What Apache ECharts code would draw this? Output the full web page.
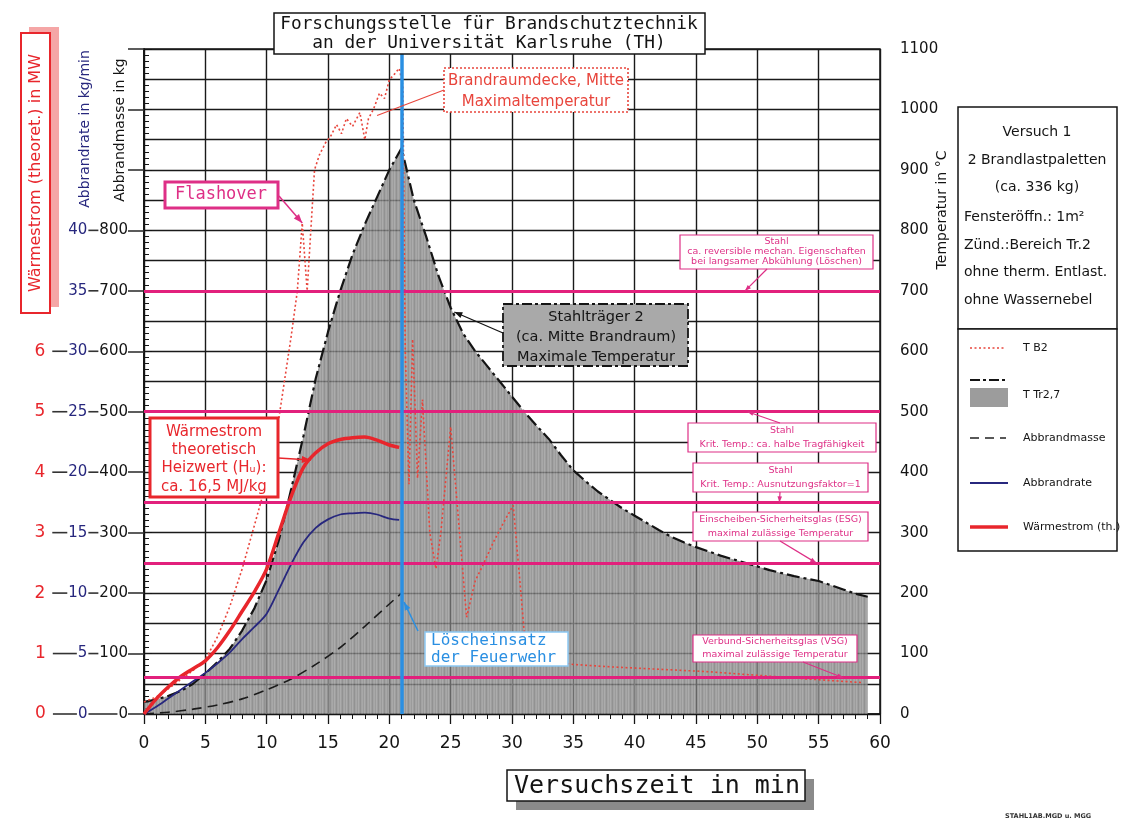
<!DOCTYPE html>
<html lang="de">
<head>
<meta charset="utf-8">
<title>Versuch 1 – Temperaturverlauf</title>
<script src="https://cdn.jsdelivr.net/npm/echarts@6/dist/echarts.min.js"></script>
<style>
html,body{margin:0;padding:0;background:#fff;}
#chart{width:1121px;height:828px;}
</style>
</head>
<body>
<div id="chart"></div>
<script>
// ---- Messwerte ---------------------------------------------------------
// T Tr2,7 – Stahlträger 2, maximale Temperatur (°C)
const trTime = [0,1,2,3,4,5,6,7,8,9,10,11,12,13,14,15,16,17,18,19,20,21,22,23,24,25,26,27,28,29,30,31,32,33,34,35,36,37,38,39,40,41,42,43,44,45,46,47,48,49,50,51,52,53,54,55,56,57,58,59];
const trTemp = [20,24,30,38,50,67,86,108,138,175,222,288,372,460,555,632,700,760,810,855,900,936,850,790,725,672,630,600,575,550,525,500,477,455,428,403,385,368,354,340,328,316,304,293,284,276,269,262,256,250,244,238,233,228,224,220,213,206,199,194];

// T B2 – Brandraumdecke, Mitte (°C)
const b2Time = [0,1,2,3,4,5,6,7,8,9,10,11,12,12.5,12.9,13.3,13.9,14.3,14.8,15.2,15.7,16.1,16.5,17,17.6,18,18.3,18.7,19.2,19.6,20,20.4,20.8,21.1,21.3,21.6,21.9,22.3,22.7,23.3,23.8,24.2,25,25.6,26.3,27,27.6,28.5,29.4,30.1,30.6,31.1,32,33,35,38,42,46,50,54,58.5];
const b2Temp = [20,28,42,57,72,90,128,178,240,312,385,490,625,700,812,700,900,925,945,955,975,960,985,972,995,950,985,1000,1027,1018,1049,1058,1068,1040,600,380,620,390,520,300,240,300,475,330,160,220,245,285,320,345,230,110,95,88,82,78,74,70,64,58,52];

// Abbrandmasse (kg)
const amTime = [0,2,4,6,8,10,12,14,16,18,20,21];
const amMass = [0,3,8,15,25,40,58,82,110,145,182,200];

// Abbrandrate (kg/min)
const arTime = [0,1,2,3,4,5,6,7,8,9,10,11,12,13,14,15,16,17,18,19,20,20.8];
const arRate = [0,0.6,1.3,2.0,2.7,3.4,4.2,5.1,6.2,7.2,8.3,10.3,12.4,14.2,15.4,16.1,16.5,16.6,16.65,16.5,16.15,16.05];

// Wärmestrom, theoretisch (MW)
const wsTime = [0,1,2,3,4,5,6,7,8,9,10,11,12,13,14,15,16,17,18,19,20,20.8];
const wsPower = [0,0.25,0.45,0.62,0.75,0.88,1.1,1.38,1.7,2.02,2.4,3.0,3.6,4.08,4.32,4.47,4.54,4.57,4.58,4.53,4.45,4.41];

// Grenztemperaturen Stahl / Glas (°C)
const limitTemps = [700, 500, 350, 250, 60];
// Beginn des Löscheinsatzes (min)
const extinguishTime = 21;

// Achsen
const timeAxis = { min: 0, max: 60, step: 5 };
const tempAxis = { min: 0, max: 1100, step: 100, grid: 50 };
const massLabelMax = 800;   // kg, höchste Beschriftung links
const powerLabelMax = 600;  // entspricht 6 MW
const kgPerMinFactor = 20;  // 1 kg/min ≙ 20 kg Skalenteil
const mwFactor = 100;       // 1 MW ≙ 100 kg Skalenteil

// ---- Farben --------------------------------------------------------------
const RED = '#e8262c', DOT_RED = '#e8453c', PINK = '#e2207c', PINK_TXT = '#de2f86',
      BLUE = '#2a8fe2', NAVY = '#27277e', INK = '#141414';
const SANS = 'DejaVu Sans', MONO = 'DejaVu Sans Mono';

const zip = (a, b) => a.map((t, i) => [t, b[i]]);

// Schraffur der Trägerfläche (feine senkrechte Streifen)
const stripe = document.createElement('canvas');
stripe.width = 6; stripe.height = 4;
(() => {
  const c = stripe.getContext('2d');
  ['#777','#8c8c8c','#939393','#828282','#989898','#888'].forEach((col, i) => {
    c.fillStyle = col; c.fillRect(i, 0, 1, 4);
  });
})();

// ---- linke Mehrfachskala (MW – kg/min – kg) -----------------------------
const measureCtx = document.createElement('canvas').getContext('2d');
const textW = (s, px) => { measureCtx.font = px + 'px "' + SANS + '"'; return Math.round(measureCtx.measureText(s).width); };
const leftRich = {
  mw: { color: RED, fontSize: 17, fontFamily: SANS },
  r:  { color: NAVY, fontSize: 15, fontFamily: SANS },
  k:  { color: INK, fontSize: 15, fontFamily: SANS }
};
for (let w = 1; w <= 60; w++) {
  leftRich['l' + w] = { width: w, height: 1.6, backgroundColor: '#333' };
  leftRich['s' + w] = { width: w };
}
function leftLabel(v) {
  if (v > massLabelMax) return '';
  const kg = String(v), rate = String(v / kgPerMinFactor);
  const l2 = Math.max(4, 39 - textW(kg, 15));
  let s = `{r|${rate}}{s1| }{l${l2}| }{s1| }{k|${kg}}`;
  if (v <= powerLabelMax) {
    const l1 = Math.max(4, 34 - textW(rate, 15));
    s = `{mw|${v / mwFactor}}{s7| }{l${l1}| }{s1| }` + s;
  }
  return s;
}

const chart = echarts.init(document.getElementById('chart'), null, { renderer: 'canvas' });

const option = {
  animation: false,
  backgroundColor: '#fff',
  grid: { left: 144, right: 241, top: 49, bottom: 114, show: true, borderColor: INK, borderWidth: 1.5, backgroundColor: 'transparent' },
  xAxis: [{
    type: 'value', min: timeAxis.min, max: timeAxis.max, interval: timeAxis.step,
    axisLine: { show: true, lineStyle: { color: INK, width: 1.5 } },
    axisTick: { show: true, length: 10, lineStyle: { color: INK, width: 1.3 } },
    minorTick: { show: true, splitNumber: 5, length: 5, lineStyle: { color: INK, width: 1 } },
    axisLabel: { fontSize: 17, fontFamily: SANS, color: INK, margin: 21 },
    splitLine: { show: true, lineStyle: { color: '#1a1a1a', width: 1.4 } }
  }],
  yAxis: [
    { // 0: Temperatur (rechts)
      type: 'value', position: 'right', min: tempAxis.min, max: tempAxis.max, interval: tempAxis.step,
      axisLine: { show: true, lineStyle: { color: INK, width: 1.5 } },
      axisTick: { show: true, length: 8, lineStyle: { color: INK } },
      minorTick: { show: true, splitNumber: 10, length: 4, lineStyle: { color: INK } },
      axisLabel: { fontSize: 15, fontFamily: SANS, color: INK, margin: 20, formatter: v => String(v) },
      splitLine: { show: false }
    },
    { // 1: Abbrandmasse in kg (links) mit kombinierter Beschriftung
      type: 'value', position: 'left', min: tempAxis.min, max: tempAxis.max, interval: tempAxis.step,
      axisLine: { show: true, lineStyle: { color: INK, width: 1.5 } },
      axisTick: { show: true, length: 16, lineStyle: { color: '#333', width: 1.6 } },
      axisLabel: { margin: 16, formatter: leftLabel, rich: leftRich },
      splitLine: { show: false }
    },
    { // 2: Feinteilung links (innen)
      type: 'value', position: 'left', min: tempAxis.min, max: tempAxis.max, interval: tempAxis.step,
      axisLine: { show: false }, axisLabel: { show: false },
      axisTick: { show: false, inside: true },
      minorTick: { show: true, splitNumber: 10, length: 5, lineStyle: { color: INK } },
      splitLine: { show: false }
    },
    { // 3: Rasterlinien alle 50 °C
      type: 'value', position: 'right', min: tempAxis.min, max: tempAxis.max, interval: tempAxis.grid,
      axisLine: { show: false }, axisLabel: { show: false }, axisTick: { show: false },
      splitLine: { show: true, lineStyle: { color: '#1a1a1a', width: 1.4 } }
    },
    { // 4: Abbrandrate kg/min
      type: 'value', show: false, min: tempAxis.min / kgPerMinFactor, max: tempAxis.max / kgPerMinFactor, splitLine: { show: false }
    },
    { // 5: Wärmestrom MW
      type: 'value', show: false, min: tempAxis.min / mwFactor, max: tempAxis.max / mwFactor, splitLine: { show: false }
    }
  ],
  series: [
    {
      name: 'T Tr2,7', type: 'line', xAxisIndex: 0, yAxisIndex: 0, data: zip(trTime, trTemp),
      symbol: 'none', smooth: false, z: 2, silent: true,
      lineStyle: { color: INK, width: 2.2, type: [13, 4, 3, 4] },
      areaStyle: { color: { image: stripe, repeat: 'repeat' }, opacity: 0.8 },
      markLine: {
        silent: true, symbol: 'none', label: { show: false }, z: 5,
        lineStyle: { color: PINK, width: 3, type: 'solid' },
        data: limitTemps.map(v => ({ yAxis: v }))
      }
    },
    {
      name: 'T B2', type: 'line', xAxisIndex: 0, yAxisIndex: 0, data: zip(b2Time, b2Temp),
      symbol: 'none', z: 3, silent: true,
      lineStyle: { color: DOT_RED, width: 1.6, type: [2, 2.5] },
      markLine: {
        silent: true, symbol: 'none', label: { show: false }, z: 6,
        lineStyle: { color: BLUE, width: 3.5, type: 'solid' },
        data: [{ xAxis: extinguishTime }]
      }
    },
    {
      name: 'Abbrandmasse', type: 'line', xAxisIndex: 0, yAxisIndex: 1, data: zip(amTime, amMass),
      symbol: 'none', smooth: 0.3, z: 4, silent: true,
      lineStyle: { color: '#1c1c1c', width: 1.6, type: [10, 6] }
    },
    {
      name: 'Abbrandrate', type: 'line', xAxisIndex: 0, yAxisIndex: 4, data: zip(arTime, arRate),
      symbol: 'none', smooth: 0.3, z: 4, silent: true,
      lineStyle: { color: NAVY, width: 1.8 }
    },
    {
      name: 'Wärmestrom (th.)', type: 'line', xAxisIndex: 0, yAxisIndex: 5, data: zip(wsTime, wsPower),
      symbol: 'none', smooth: 0.3, z: 4, silent: true,
      lineStyle: { color: RED, width: 3.5 }
    }
  ]
};
chart.setOption(option);

// ---- Beschriftungen, Kästen und Hinweispfeile ----------------------------
const P = (t, v, yi = 0) => chart.convertToPixel({ xAxisIndex: 0, yAxisIndex: yi }, [t, v]);

function txt(x, y, s, o = {}) {
  const al = o.align || 'center';
  return {
    type: 'text', x, y, rotation: o.rot || 0, z: o.z || 140, silent: true,
    style: {
      text: s, fill: o.color || INK, fontSize: o.size || 14, fontFamily: o.font || SANS,
      fontWeight: o.weight || 'normal', align: al, verticalAlign: 'middle',
      textAlign: al, textVerticalAlign: 'middle', rich: o.rich
    }
  };
}
function box(x, y, w, h, o = {}) {
  return {
    type: 'rect', z: o.z || 130, silent: true, shape: { x, y, width: w, height: h },
    style: { fill: o.fill === undefined ? '#fff' : o.fill, stroke: o.stroke || null, lineWidth: o.lw || 1, lineDash: o.dash || null }
  };
}
function line(x1, y1, x2, y2, color, lw, dash, z) {
  return { type: 'line', z: z || 135, silent: true, shape: { x1, y1, x2, y2 }, style: { stroke: color, lineWidth: lw, lineDash: dash || null } };
}
function arrow(x1, y1, tip, color, lw, head) {
  const [x2, y2] = tip;
  const els = [line(x1, y1, x2, y2, color, lw)];
  if (head) {
    const a = Math.atan2(y2 - y1, x2 - x1), W = head * 0.38;
    const bx = x2 - head * Math.cos(a), by = y2 - head * Math.sin(a);
    els.push({
      type: 'polygon', z: 136, silent: true,
      shape: { points: [[x2, y2], [bx - W * Math.sin(a), by + W * Math.cos(a)], [bx + W * Math.sin(a), by - W * Math.cos(a)]] },
      style: { fill: color }
    });
  }
  return els;
}

const G = [];

// Kopf
G.push(box(274, 13, 431, 41, { stroke: INK, lw: 1.5 }));
G.push(txt(489, 24, 'Forschungsstelle für Brandschutztechnik', { font: MONO, size: 17.8 }));
G.push(txt(489, 43, 'an der Universität Karlsruhe (TH)', { font: MONO, size: 17.8 }));

// Achsentitel links
G.push(box(29, 27, 30, 280, { fill: '#f5a6a6' }));
G.push(box(21, 33, 29, 280, { stroke: RED, lw: 2 }));
G.push(txt(36, 173, 'Wärmestrom (theoret.) in MW', { rot: Math.PI / 2, size: 16, color: RED }));
G.push(txt(85, 129, 'Abbrandrate in kg/min', { rot: Math.PI / 2, size: 14, color: NAVY }));
G.push(txt(120, 130, 'Abbrandmasse in kg', { rot: Math.PI / 2, size: 14 }));

// Achsentitel rechts
G.push(txt(942, 210, 'Temperatur in °C', { rot: Math.PI / 2, size: 14 }));

// Achsentitel unten
G.push(box(516, 779, 298, 31, { fill: '#8a8a8a' }));
G.push(box(507, 770, 298, 31, { stroke: INK, lw: 1.5 }));
G.push(txt(514, 786, 'Versuchszeit in min', { font: MONO, size: 25, align: 'left' }));

// Versuchsbeschreibung
G.push(box(958, 107, 159, 222, { stroke: INK, lw: 1.5 }));
[['Versuch 1', 132, 'center'], ['2 Brandlastpaletten', 160, 'center'], ['(ca. 336 kg)', 187, 'center'],
 ['Fensteröffn.: 1m²', 217, 'left'], ['Zünd.:Bereich Tr.2', 245, 'left'],
 ['ohne therm. Entlast.', 272, 'left'], ['ohne Wassernebel', 300, 'left']].forEach(([s, y, al]) => {
  G.push(txt(al === 'center' ? 1037 : 964, y, s, { size: 14, align: al }));
});

// Legende
G.push(box(958, 329, 159, 222, { stroke: INK, lw: 1.5 }));
G.push(line(970, 348, 1006, 348, DOT_RED, 1.6, [2, 2.5], 141));
G.push(txt(1023, 348, 'T B2', { size: 11, align: 'left' }));
G.push(line(970, 380, 1006, 380, INK, 2, [10, 3, 3, 3], 141));
G.push(box(970, 388, 38, 19, { fill: '#9c9c9c', z: 141 }));
G.push(txt(1023, 395, 'T Tr2,7', { size: 11, align: 'left' }));
G.push(line(970, 438, 1006, 438, '#222', 1.6, [9, 6], 141));
G.push(txt(1023, 438, 'Abbrandmasse', { size: 11, align: 'left' }));
G.push(line(970, 483, 1008, 483, NAVY, 2, null, 141));
G.push(txt(1023, 483, 'Abbrandrate', { size: 11, align: 'left' }));
G.push(line(970, 527, 1008, 527, RED, 3.5, null, 141));
G.push(txt(1023, 527, 'Wärmestrom (th.)', { size: 11, align: 'left' }));

// Flashover
G.push(...arrow(279, 196, P(12.9, 812), PINK_TXT, 1.5, 9));
G.push(box(165, 182, 113, 26, { stroke: PINK_TXT, lw: 3 }));
G.push(txt(221, 195, 'Flashover', { font: MONO, size: 17, color: PINK_TXT }));

// Brandraumdecke
G.push(...arrow(444, 90, P(19, 990), DOT_RED, 1.2, 0));
G.push(box(444, 68, 184, 44, { stroke: DOT_RED, lw: 1.6, dash: [2, 2] }));
G.push(txt(536, 81, 'Brandraumdecke, Mitte', { size: 15, color: DOT_RED }));
G.push(txt(536, 102, 'Maximaltemperatur', { size: 15, color: DOT_RED }));

// Stahlträger 2
G.push(...arrow(503, 333, P(25.3, 665), INK, 1.3, 8));
G.push(box(503, 304, 185, 62, { fill: '#a9a9a9', stroke: INK, lw: 1.8, dash: [10, 3, 3, 3] }));
G.push(txt(596, 317, 'Stahlträger 2', { size: 14.5 }));
G.push(txt(596, 337, '(ca. Mitte Brandraum)', { size: 14.5 }));
G.push(txt(596, 357, 'Maximale Temperatur', { size: 14.5 }));

// Wärmestrom-Hinweis
G.push(...arrow(278, 458, P(13.6, 4.2, 5), RED, 1.5, 9));
G.push(box(150, 418, 128, 79, { stroke: RED, lw: 3 }));
G.push(txt(214, 432, 'Wärmestrom', { size: 15, color: RED }));
G.push(txt(214, 450, 'theoretisch', { size: 15, color: RED }));
G.push(txt(214, 468, 'Heizwert (Hᵤ):', { size: 15, color: RED }));
G.push(txt(214, 487, 'ca. 16,5 MJ/kg', { size: 15, color: RED }));

// Löscheinsatz
G.push(...arrow(418, 631, P(extinguishTime + 0.2, 185), BLUE, 1.5, 8));
G.push(box(425, 632, 143, 34, { stroke: '#8cc8f2', lw: 1.5 }));
G.push(txt(431, 641, 'Löscheinsatz', { font: MONO, size: 16, color: BLUE, align: 'left' }));
G.push(txt(431, 658, 'der Feuerwehr', { font: MONO, size: 16, color: BLUE, align: 'left' }));

// Grenztemperaturen
const notes = [
  { x: 680, y: 235, w: 193, h: 34, lines: ['Stahl', 'ca. reversible mechan. Eigenschaften', 'bei langsamer Abkühlung (Löschen)'], step: 10, from: [767, 269], at: [49, limitTemps[0]] },
  { x: 688, y: 423, w: 188, h: 29, lines: ['Stahl', 'Krit. Temp.: ca. halbe Tragfähigkeit'], step: 14, from: [780, 423], at: [49.2, limitTemps[1]] },
  { x: 693, y: 463, w: 175, h: 29, lines: ['Stahl', 'Krit. Temp.: Ausnutzungsfaktor=1'], step: 14, from: [780, 492], at: [51.8, limitTemps[2]] },
  { x: 693, y: 512, w: 175, h: 29, lines: ['Einscheiben-Sicherheitsglas (ESG)', 'maximal zulässige Temperatur'], step: 14, from: [780, 541], at: [54.8, limitTemps[3]] },
  { x: 693, y: 635, w: 164, h: 27, lines: ['Verbund-Sicherheitsglas (VSG)', 'maximal zulässige Temperatur'], step: 13, from: [803, 662], at: [57, limitTemps[4]] }
];
notes.forEach(n => {
  G.push(...arrow(n.from[0], n.from[1], P(n.at[0], n.at[1]), PINK_TXT, 1.2, 6));
  G.push(box(n.x, n.y, n.w, n.h, { stroke: PINK_TXT, lw: 1.2 }));
  const cy = n.y + n.h / 2 - (n.lines.length - 1) * n.step / 2;
  n.lines.forEach((s, i) => G.push(txt(n.x + n.w / 2, cy + i * n.step, s, { size: 9.5, color: PINK_TXT })));
});

// Dateikennung
G.push(txt(1005, 816, 'STAHL1AB.MGD u. MGG', { size: 6.5, weight: 'bold', align: 'left', color: '#333' }));

chart.setOption({ graphic: { elements: G } });
</script>
</body>
</html>
